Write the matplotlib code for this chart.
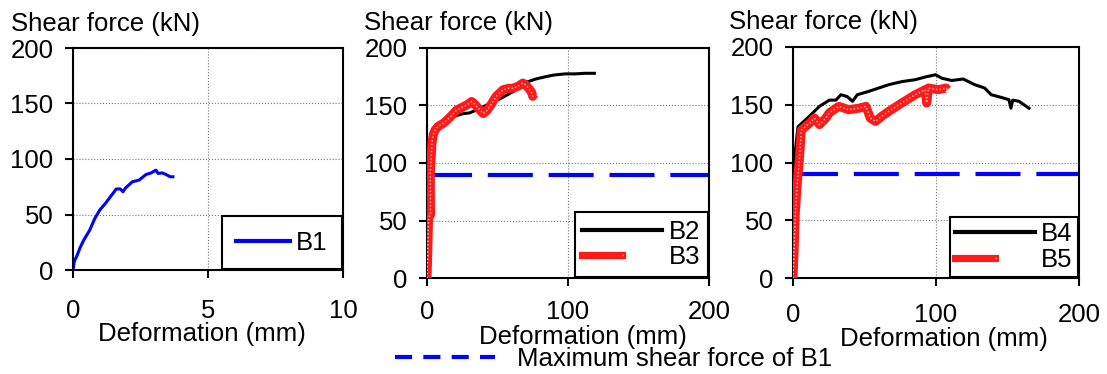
import matplotlib
matplotlib.use("Agg")
import matplotlib.pyplot as plt
from matplotlib.lines import Line2D
from matplotlib.legend_handler import HandlerTuple

plt.rcParams['font.family'] = ['Liberation Sans', 'DejaVu Sans']
FS = 18.5

# ---------------- data ----------------
b1_x = [0, 0.05, 0.15, 0.26, 0.4, 0.62, 0.8, 0.99, 1.2, 1.48, 1.6, 1.75, 1.85, 1.95,
        2.2, 2.45, 2.7, 2.9, 3.07, 3.15, 3.3, 3.45, 3.6, 3.7]
b1_y = [0, 8, 13, 20, 27, 36, 46, 54, 60, 69, 73, 73, 70.5, 74,
        79.5, 81, 86, 87.5, 90, 87, 87.5, 86, 84, 84]

b2_x = [0, 0.2, 0.8, 1.5, 2.5, 4, 6, 9, 14, 20, 26, 30, 35, 40, 45, 52, 58, 63,
        70, 77, 84, 90, 98, 105, 112, 118.7]
b2_y = [0, 35, 60, 90, 110, 120, 127, 132, 137, 141, 143, 143.5, 146, 149, 152, 156,
        160, 163.5, 170, 173, 175, 176.5, 177.5, 177.5, 178, 178]

b3_x = [0, 0.5, 1.0, 1.2, 2.5, 2.3, 3.0, 3.5, 4.5, 5.9, 8, 11.7, 16.4, 21, 25.8, 29, 31.6,
        34, 36.3, 39.8, 42, 44.5, 49, 54, 58, 61, 65, 68, 70, 72, 74, 75, 76]
b3_y = [0, 20, 48, 53, 55, 91, 105, 117, 125, 129, 132, 134.6, 140, 146, 149, 151, 153.5,
        151, 147.7, 143, 145, 149, 158, 163.7, 165, 165, 167, 169.5, 168, 165, 162, 158, 160]

b4_x = [0, 1.2, 3.5, 11.5, 18.5, 25.4, 30, 33.5, 38, 41.6, 45, 53, 60, 67, 76, 85.5,
        92.4, 99.8, 104, 111, 119, 127, 134, 138.6, 145.5, 151, 152.4, 153.6, 158, 165]
b4_y = [56, 105, 131, 140, 148.6, 154, 154, 158.7, 157, 153, 158.7, 161.6, 164.5, 167.4,
        170, 171.7, 174, 176, 173, 171, 172.3, 167.4, 164.5, 158.7, 156.4, 154.4, 147,
        154, 153, 147]

b5_x = [0, 0.7, 1.6, 3.0, 4.6, 5.8, 11.5, 15, 18.5, 23, 25.4, 32, 39, 46, 51, 54,
        57.7, 62, 67, 76, 85.5, 92.4, 93.5, 94.7, 101.6, 107, 108]
b5_y = [0, 21.6, 56, 82, 105, 128, 134, 138.5, 132.8, 138.5, 143, 148.6, 145.7, 147,
        148.6, 138.5, 135.6, 140, 144.3, 151.5, 158.7, 163, 151.5, 164.5, 163, 164.5, 163]

b1_max = 90
x_ticks_1 = [0, 5, 10]
x_ticks_2 = [0, 100, 200]
y_ticks = [0, 50, 100, 150, 200]

# ---------------- figure ----------------
fig = plt.figure(figsize=(11.07, 3.74), dpi=100)
W, H = 1107, 374

def make_ax(l, r, t, b):
    return fig.add_axes([l / W, 1 - b / H, (r - l) / W, (b - t) / H])

ax1 = make_ax(73, 343, 48, 270)
ax2 = make_ax(427, 709, 48, 278)
ax3 = make_ax(793, 1079, 47, 278)

RED = '#ff1a1a'

def red_line(ax, x, y):
    l1, = ax.plot(x, y, color=RED, lw=6.5, solid_joinstyle='round',
                  solid_capstyle='butt', zorder=3)
    l2, = ax.plot(x, y, color='white', lw=1.0, ls=(0, (1, 1.6)), alpha=0.75, zorder=4)
    return (l1, l2)

def style(ax, xticks, xmax, xpad):
    ax.set_xlim(0, xmax)
    ax.set_ylim(0, 200)
    ax.set_xticks(xticks)
    ax.set_yticks(y_ticks)
    ax.grid(True, color='#777777', ls=':', lw=0.8)
    ax.set_axisbelow(True)
    for s in ax.spines.values():
        s.set_linewidth(1.5)
        s.set_color('black')
    ax.tick_params(axis='both', direction='out', length=6, width=1.5, labelsize=FS)
    ax.tick_params(axis='y', pad=8)
    ax.tick_params(axis='x', pad=xpad)
    ax.text(-0.23 if xmax == 10 else -0.225, 1.11, 'Shear force (kN)', transform=ax.transAxes,
            fontsize=FS, ha='left', va='center')

# panel 1
ax1.plot(b1_x, b1_y, color='#0000ff', lw=2.2, label='B1', solid_joinstyle='round')
style(ax1, x_ticks_1, 10, 15)
leg1 = ax1.legend(loc='lower right', bbox_to_anchor=(1.0, 0.0), fontsize=FS,
                  frameon=True, fancybox=False, edgecolor='black', framealpha=1,
                  handlelength=2.1, handletextpad=0.25, borderaxespad=0.05,
                  borderpad=0.55)
leg1.get_frame().set_linewidth(1.5)
for h in leg1.get_lines():
    h.set_linewidth(3)

# panel 2
ax2.axhline(b1_max, color='#0000ff', lw=3, ls=(0, (10.8, 3.8)), zorder=2)
l_b2, = ax2.plot(b2_x, b2_y, color='black', lw=2.2, zorder=3, solid_joinstyle='round')
h_b3 = red_line(ax2, b3_x, b3_y)
style(ax2, x_ticks_2, 200, 10)

# panel 3
ax3.axhline(b1_max, color='#0000ff', lw=3, ls=(0, (10.8, 3.8)), zorder=2)
l_b4, = ax3.plot(b4_x, b4_y, color='black', lw=2.2, zorder=3, solid_joinstyle='round')
h_b5 = red_line(ax3, b5_x, b5_y)
style(ax3, x_ticks_2, 200, 12)

def pair_legend(ax, lab1, lab2, bpad):
    hb = Line2D([], [], color='black', lw=3)
    hr1 = Line2D([], [], color=RED, lw=5.2)
    hr2 = Line2D([], [], color='white', lw=1.0, ls=(0, (1, 1.6)), alpha=0.75)
    leg = ax.legend([hb, (hr1, hr2)], [lab1, lab2], loc='lower right',
                    bbox_to_anchor=(1.0, 0.0), fontsize=FS, frameon=True,
                    fancybox=False, edgecolor='black', framealpha=1,
                    handlelength=3.1, handletextpad=0.25, borderaxespad=0.05,
                    borderpad=bpad, labelspacing=0.05,
                    handler_map={tuple: HandlerTuple(ndivide=None, pad=0)})
    leg.get_frame().set_linewidth(1.5)
    return leg

pair_legend(ax2, 'B2', 'B3', 0.3)
pair_legend(ax3, 'B4', 'B5', 0.2)

# x labels
for ax, (cx, cy) in zip([ax1, ax2, ax3], [(202, 334), (583, 337), (944, 339)]):
    ax.set_xlabel('Deformation (mm)', fontsize=FS)
    p = ax.get_position()
    ax.xaxis.set_label_coords((cx / W - p.x0) / p.width, ((1 - cy / H) - p.y0) / p.height)
    ax.xaxis.label.set_va('center')

# bottom legend
proxy = Line2D([], [], color='#0000ff', lw=3, ls=(0, (4.1, 2.7)))
fig.legend([proxy], ['Maximum shear force of B1'], loc='center left',
           bbox_to_anchor=(395 / W, 1 - 359 / H), frameon=False, fontsize=FS,
           handlelength=3.9, handletextpad=0.85, borderpad=0, borderaxespad=0)

fig.savefig('out.png', dpi=100)
